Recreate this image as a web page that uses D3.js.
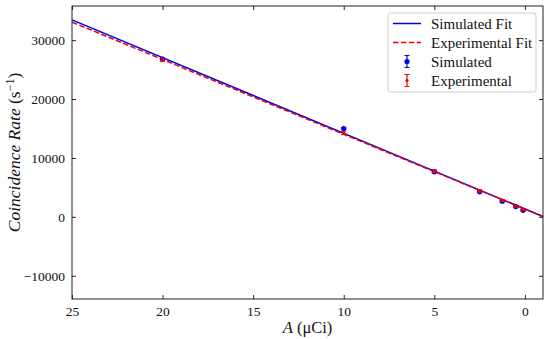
<!DOCTYPE html>
<html>
<head>
<meta charset="utf-8">
<script src="https://cdn.jsdelivr.net/npm/d3@7"></script>
<style>
  body { margin: 0; background: #fff; }
  svg { display: block; }
  text { font-family: "Liberation Serif", "DejaVu Serif", serif; fill: #111; }
</style>
</head>
<body>
<div id="wrapper"></div>
<script>
// data
const activity = [20, 10, 5, 2.5, 1.25, 0.5, 0.1]
const simulatedRate = [26800, 15000, 7650, 4250, 2650, 1750, 1100]
const simulatedErr = [150, 150, 120, 100, 100, 100, 100]
const experimentalRate = [26650, 14250, 7750, 4380, 2780, 1800, 1200]
const experimentalErr = [300, 280, 250, 200, 180, 160, 150]

// fit lines, end points at the edges of the x range
const fitA = [25, -1]
const simulatedFit = [33450, 50]
const experimentalFit = [33060, 60]

const xTicks = [25, 20, 15, 10, 5, 0]
const yTicks = [-10000, 0, 10000, 20000, 30000]

// 1. dimensions
const dimensions = {
  width: 550,
  height: 339,
  margin: { top: 6, right: 7, bottom: 40, left: 72 },
}
dimensions.boundedWidth = dimensions.width - dimensions.margin.left - dimensions.margin.right
dimensions.boundedHeight = dimensions.height - dimensions.margin.top - dimensions.margin.bottom

// 2. canvas
const wrapper = d3.select("#wrapper")
  .append("svg")
    .attr("width", dimensions.width)
    .attr("height", dimensions.height)

const bounds = wrapper.append("g")
  .attr("transform", `translate(${dimensions.margin.left},${dimensions.margin.top})`)

// 3. scales (x reversed)
const xScale = d3.scaleLinear()
  .domain([25, -1])
  .range([0, dimensions.boundedWidth])

const yScale = d3.scaleLinear()
  .domain([-13950, 35800])
  .range([dimensions.boundedHeight, 0])

// 4. fits
const fitLine = d3.line()
  .x(d => xScale(d[0]))
  .y(d => yScale(d[1]))

bounds.append("path")
  .attr("d", fitLine(fitA.map((a, i) => [a, simulatedFit[i]])))
  .attr("fill", "none")
  .attr("stroke", "#0000ee")
  .attr("stroke-width", 1.5)

bounds.append("path")
  .attr("d", fitLine(fitA.map((a, i) => [a, experimentalFit[i]])))
  .attr("fill", "none")
  .attr("stroke", "#ee0000")
  .attr("stroke-width", 1.5)
  .attr("stroke-dasharray", "5.5,2.4")

// 5. points with error bars
function drawPoints(values, errs, color, r) {
  const g = bounds.append("g")
  activity.forEach((a, i) => {
    const x = xScale(a)
    const y0 = yScale(values[i] - errs[i])
    const y1 = yScale(values[i] + errs[i])
    g.append("line").attr("x1", x).attr("x2", x).attr("y1", y0).attr("y2", y1)
      .attr("stroke", color).attr("stroke-width", 1.2)
    g.append("line").attr("x1", x - 2.5).attr("x2", x + 2.5).attr("y1", y0).attr("y2", y0)
      .attr("stroke", color).attr("stroke-width", 1)
    g.append("line").attr("x1", x - 2.5).attr("x2", x + 2.5).attr("y1", y1).attr("y2", y1)
      .attr("stroke", color).attr("stroke-width", 1)
    g.append("circle").attr("cx", x).attr("cy", yScale(values[i])).attr("r", r)
      .attr("fill", color)
  })
}
drawPoints(simulatedRate, simulatedErr, "#0000ee", 2.6)
drawPoints(experimentalRate, experimentalErr, "#ee0000", 1.6)

// 6. axes, ticks pointing in on all four sides
const frame = bounds.append("rect")
  .attr("width", dimensions.boundedWidth)
  .attr("height", dimensions.boundedHeight)
  .attr("fill", "none")
  .attr("stroke", "#222")
  .attr("stroke-width", 1)

const xAxis = bounds.append("g")
  .attr("transform", `translate(0,${dimensions.boundedHeight})`)
  .call(d3.axisBottom(xScale).tickValues(xTicks).tickSize(-4).tickPadding(7).tickFormat(d3.format("d")))
const xAxisTop = bounds.append("g")
  .call(d3.axisTop(xScale).tickValues(xTicks).tickSize(-4).tickFormat(""))
const yAxis = bounds.append("g")
  .call(d3.axisLeft(yScale).tickValues(yTicks).tickSize(-4).tickPadding(7)
    .tickFormat(d => d < 0 ? "\u2212" + Math.abs(d) : d))
const yAxisRight = bounds.append("g")
  .attr("transform", `translate(${dimensions.boundedWidth},0)`)
  .call(d3.axisRight(yScale).tickValues(yTicks).tickSize(-4).tickFormat(""))

bounds.selectAll(".domain").remove()
bounds.selectAll(".tick line").attr("stroke", "#222")
bounds.selectAll(".tick text")
  .style("font-family", '"Liberation Serif", serif')
  .style("font-size", "13.5px")
  .attr("fill", "#111")

// axis labels
const xLabel = wrapper.append("text")
  .attr("x", dimensions.margin.left + dimensions.boundedWidth / 2)
  .attr("y", 333)
  .attr("text-anchor", "middle")
  .style("font-size", "16.5px")
xLabel.append("tspan").style("font-style", "italic").text("A")
xLabel.append("tspan").text(" (\u03bcCi)")

const yLabel = wrapper.append("text")
  .attr("transform", `translate(20,${dimensions.margin.top + dimensions.boundedHeight / 2}) rotate(-90)`)
  .attr("text-anchor", "middle")
  .style("font-size", "17.5px")
yLabel.append("tspan").style("font-style", "italic").text("Coincidence Rate")
yLabel.append("tspan").text(" (s")
yLabel.append("tspan").attr("dy", -6).style("font-size", "12px").text("\u22121")
yLabel.append("tspan").attr("dy", 6).text(")")

// legend
const legend = wrapper.append("g").attr("transform", "translate(388,13)")
legend.append("rect")
  .attr("width", 148)
  .attr("height", 79)
  .attr("rx", 2.5)
  .attr("fill", "#fff")
  .attr("fill-opacity", 0.8)
  .attr("stroke", "#ccc")
  .attr("stroke-width", 1)

const legendItems = ["Simulated Fit", "Experimental Fit", "Simulated", "Experimental"]
legendItems.forEach((label, i) => {
  const y = 10.5 + i * 19
  if (i === 0 || i === 1) {
    legend.append("line")
      .attr("x1", 5).attr("x2", 33).attr("y1", y).attr("y2", y)
      .attr("stroke", i === 0 ? "#0000ee" : "#ee0000")
      .attr("stroke-width", 1.5)
      .attr("stroke-dasharray", i === 1 ? "5.5,2.4" : null)
  } else {
    const color = i === 2 ? "#0000ee" : "#ee0000"
    legend.append("line").attr("x1", 19).attr("x2", 19).attr("y1", y - 6).attr("y2", y + 6)
      .attr("stroke", color).attr("stroke-width", 1.2)
    legend.append("line").attr("x1", 16.5).attr("x2", 21.5).attr("y1", y - 6).attr("y2", y - 6)
      .attr("stroke", color)
    legend.append("line").attr("x1", 16.5).attr("x2", 21.5).attr("y1", y + 6).attr("y2", y + 6)
      .attr("stroke", color)
    legend.append("circle").attr("cx", 19).attr("cy", y).attr("r", i === 2 ? 2.6 : 1.6).attr("fill", color)
  }
  legend.append("text")
    .attr("x", 43)
    .attr("y", y)
    .attr("dy", "0.35em")
    .style("font-size", "15px")
    .text(label)
})
</script>
</body>
</html>
